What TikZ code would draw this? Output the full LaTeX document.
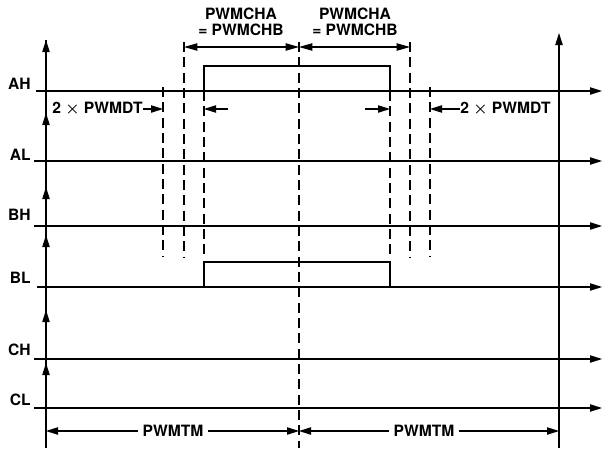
\documentclass[tikz,border=0pt]{standalone}
\usepackage{fontspec}
\setmainfont{TeX Gyre Heros}
\usetikzlibrary{arrows.meta}
\newcommand{\tms}{{\fontsize{12.5}{13}\selectfont\boldmath$\times$}}
\begin{document}
\begin{tikzpicture}[x=0.75pt,y=-0.75pt,
  sig/.style={line width=1.7pt},
  thinline/.style={line width=0.8pt},
  dashline/.style={line width=0.8pt,dash pattern=on 7.5pt off 4pt},
  lbl/.style={font=\fontsize{11.7}{12.3}\selectfont\bfseries, inner sep=0pt},
  tip/.style={-{Triangle[length=9pt,width=5.5pt]}},
  tips/.style={{Triangle[length=10pt,width=5.5pt]}-{Triangle[length=10pt,width=5.5pt]}}
]
\useasboundingbox (0,0) rectangle (603,450);

% coordinates of axes
\coordinate (L0) at (46,448);
\coordinate (R0) at (559,448);
\coordinate (Rtop) at (559,33);

% left axis (continuous) with arrow tips for each signal
\draw[thinline] (L0) -- (46,40);
\foreach \ys/\yt in {91/40, 161/113, 226/187, 287/235, 359/310, 408/363}
  \draw[thinline,tip] (46,\ys) -- (46,\yt);

% right axis
\draw[thinline,tip] (R0) -- (Rtop);

% dashed verticals
\draw[dashline] (163,87) -- (163,257);
\draw[dashline] (184,42) -- (184,257);
\draw[dashline] (204,91) -- (204,257);
\draw[dashline] (299,42) -- (299,448);
\draw[dashline] (390,91) -- (390,257);
\draw[dashline] (410,42) -- (410,257);
\draw[dashline] (430,87) -- (430,257);

% signal AH
\draw[sig] (36,91) -- (204,91) -- (204,66) -- (390,66) -- (390,91) -- (559,91);
\draw[thinline] (204,91) -- (390,91);
% signal BL
\draw[sig] (37,287) -- (204,287) -- (204,262) -- (390,262) -- (390,287) -- (559,287);
\draw[thinline] (204,287) -- (390,287);
% flat signals
\foreach \y in {161, 226, 359, 408}
  \draw[sig] (34,\y) -- (559,\y);
% thin arrow ends
\foreach \y in {91, 161, 226, 287, 359, 408}
  \draw[thinline,tip] (559,\y) -- (602,\y);

% signal labels
\node[lbl,anchor=east] (lAH) at (31,84) {AH};
\node[lbl,anchor=east] (lAL) at (31,155) {AL};
\node[lbl,anchor=east] (lBH) at (31,215) {BH};
\node[lbl,anchor=east] (lBL) at (31,278) {BL};
\node[lbl,anchor=east] (lCH) at (31,350) {CH};
\node[lbl,anchor=east] (lCL) at (31,400) {CL};

% top dimensions
\coordinate (d1) at (184,47);
\coordinate (d2) at (299,47);
\coordinate (d3) at (410,47);
\draw[thinline,tips] (d1) -- (d2);
\draw[thinline,tips] (d2) -- (d3);
\node[lbl,align=center] (cha1) at (241,22) {PWMCHA\\= PWMCHB};
\node[lbl,align=center] (cha2) at (355,22) {PWMCHA\\= PWMCHB};

% dead time labels
\node[lbl,anchor=west] (dtl) at (52,109) {2 \tms{} PWMDT};
\coordinate (dtlt) at (163,109);
\draw[thinline,tip] (dtl.east) -- (dtlt);
\coordinate (a1s) at (228,109);
\coordinate (a1t) at (204,109);
\draw[thinline,tip] (a1s) -- (a1t);
\coordinate (a2s) at (365,109);
\coordinate (a2t) at (390,109);
\draw[thinline,tip] (a2s) -- (a2t);
\node[lbl,anchor=west] (dtr) at (460,109) {2 \tms{} PWMDT};
\coordinate (dtrt) at (430,109);
\draw[thinline,tip] (dtr.west) -- (dtrt);

% PWMTM
\node[lbl,inner xsep=3.5pt] (tm1) at (173,431) {PWMTM};
\node[lbl,inner xsep=3.5pt] (tm2) at (424,431) {PWMTM};
\coordinate (t0) at (46,431);
\coordinate (t1) at (299,431);
\coordinate (t2) at (559,431);
\draw[thinline,tip] (tm1.west) -- (t0);
\draw[thinline,tip] (tm1.east) -- (t1);
\draw[thinline,tip] (tm2.west) -- (t1);
\draw[thinline,tip] (tm2.east) -- (t2);
\end{tikzpicture}
\end{document}
